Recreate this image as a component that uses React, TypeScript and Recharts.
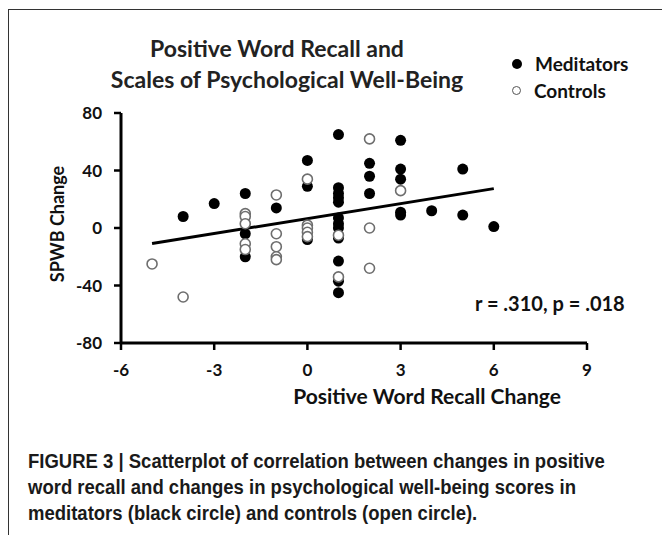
import React from "react";
import { ScatterChart, Scatter, XAxis, YAxis, ReferenceLine } from "recharts";

// axis ticks
const xTicks = [-6, -3, 0, 3, 6, 9];
const yTicks = [-80, -40, 0, 40, 80];

// [recall change, SPWB change]
const meditatorPoints: [number, number][] = [
	[-4, 8], [-3, 17], [-2, 24], [-2, -4], [-2, -20], [-1, 14],
	[0, 47], [0, 29], [0, -8],
	[1, 65], [1, 28], [1, 24], [1, 21], [1, 18], [1, 7], [1, 3], [1, 0],
	[1, -7], [1, -23], [1, -37], [1, -45],
	[2, 45], [2, 36], [2, 24],
	[3, 61], [3, 41], [3, 34], [3, 11], [3, 9],
	[4, 12], [5, 41], [5, 9], [6, 1],
];

const controlPoints: [number, number][] = [
	[-5, -25], [-4, -48],
	[-2, 10], [-2, 8], [-2, 3], [-2, -11], [-2, -15],
	[-1, 23], [-1, -4], [-1, -13], [-1, -20], [-1, -22],
	[0, 34], [0, 2], [0, 0], [0, -3], [0, -6],
	[1, -5], [1, -34],
	[2, 62], [2, 0], [2, -28],
	[3, 26],
];

// regression line end points
const fitLine = [
	{ x: -5, y: -10.8 },
	{ x: 6, y: 27.4 },
];

const toRows = (pts: [number, number][]) => pts.map(([x, y]) => ({ x, y }));

const chartFont = "Lato, 'Open Sans', sans-serif";
const captionFont = "'Liberation Sans', Arial, sans-serif";

const FilledDot = (props: any) => (
	<circle cx={props.cx} cy={props.cy} r={5.5} fill="#000" />
);

const OpenDot = (props: any) => (
	<circle cx={props.cx} cy={props.cy} r={5} fill="#fff" stroke="#6e6e6e" strokeWidth={1.6} />
);

const tickStyle = { fill: "#111", fontSize: 17, fontWeight: 700, fontFamily: chartFont };

const textBase: React.CSSProperties = {
	position: "absolute",
	whiteSpace: "nowrap",
	fontFamily: chartFont,
	fontWeight: 700,
	color: "#111",
};

export default function App() {
	return (
		<div style={{ position: "relative", width: 662, height: 535, overflow: "hidden", background: "#fff" }}>
			<style>{"body{margin:0}"}</style>

			{/* frame */}
			<div
				style={{
					position: "absolute",
					left: 8,
					top: 9,
					width: 720,
					height: 620,
					border: "1.5px solid #333",
				}}
			/>

			<ScatterChart
				width={662}
				height={535}
				margin={{ top: 113, right: 75, bottom: 162, left: 81 }}
				style={{ position: "absolute", left: 0, top: 0 }}
			>
				<XAxis
					type="number"
					dataKey="x"
					domain={[-6, 9]}
					ticks={xTicks}
					interval={0}
					height={30}
					axisLine={{ stroke: "#000", strokeWidth: 3 }}
					tickLine={{ stroke: "#000", strokeWidth: 2.5 }}
					tickSize={7}
					tickMargin={14}
					tick={tickStyle}
				/>
				<YAxis
					type="number"
					dataKey="y"
					domain={[-80, 80]}
					ticks={yTicks}
					interval={0}
					width={40}
					axisLine={{ stroke: "#000", strokeWidth: 3 }}
					tickLine={{ stroke: "#000", strokeWidth: 2.5 }}
					tickSize={7}
					tickMargin={12}
					tick={tickStyle}
				/>
				<Scatter data={toRows(meditatorPoints)} shape={FilledDot} isAnimationActive={false} />
				<Scatter data={toRows(controlPoints)} shape={OpenDot} isAnimationActive={false} />
				<ReferenceLine segment={fitLine} stroke="#000" strokeWidth={3} ifOverflow="visible" />
			</ScatterChart>

			{/* title */}
			<div style={{ ...textBase, left: 277, top: 48, transform: "translate(-50%, -50%)", fontSize: 23, color: "#222" }}>
				Positive Word Recall and
			</div>
			<div style={{ ...textBase, left: 287, top: 79, transform: "translate(-50%, -50%)", fontSize: 23, color: "#222" }}>
				Scales of Psychological Well-Being
			</div>

			{/* legend */}
			<div style={{ ...textBase, left: 512, top: 50, fontSize: 19, lineHeight: "27px" }}>
				<div style={{ display: "flex", alignItems: "center" }}>
					<span style={{ display: "inline-block", width: 10, height: 10, borderRadius: "50%", background: "#000", marginRight: 13 }} />
					Meditators
				</div>
				<div style={{ display: "flex", alignItems: "center" }}>
					<span style={{ display: "inline-block", width: 7, height: 7, borderRadius: "50%", border: "1.5px solid #555", marginRight: 13 }} />
					Controls
				</div>
			</div>

			{/* axis titles */}
			<div style={{ ...textBase, left: 57, top: 224, transform: "translate(-50%, -50%) rotate(-90deg)", fontSize: 18 }}>
				SPWB Change
			</div>
			<div style={{ ...textBase, left: 427, top: 395, transform: "translate(-50%, -50%)", fontSize: 21 }}>
				Positive Word Recall Change
			</div>

			{/* statistics */}
			<div style={{ ...textBase, left: 475, top: 303, transform: "translateY(-50%)", fontSize: 20 }}>
				r = .310, p = .018
			</div>

			{/* caption */}
			<div
				style={{
					position: "absolute",
					left: 28,
					top: 448,
					fontFamily: captionFont,
					fontWeight: 700,
					fontSize: 20,
					lineHeight: "26px",
					color: "#1a1a1a",
					whiteSpace: "nowrap",
					transform: "scaleX(0.925)",
					transformOrigin: "left top",
				}}
			>
				FIGURE 3 | Scatterplot of correlation between changes in positive
				<br />
				word recall and changes in psychological well-being scores in
				<br />
				meditators (black circle) and controls (open circle).
			</div>
		</div>
	);
}
